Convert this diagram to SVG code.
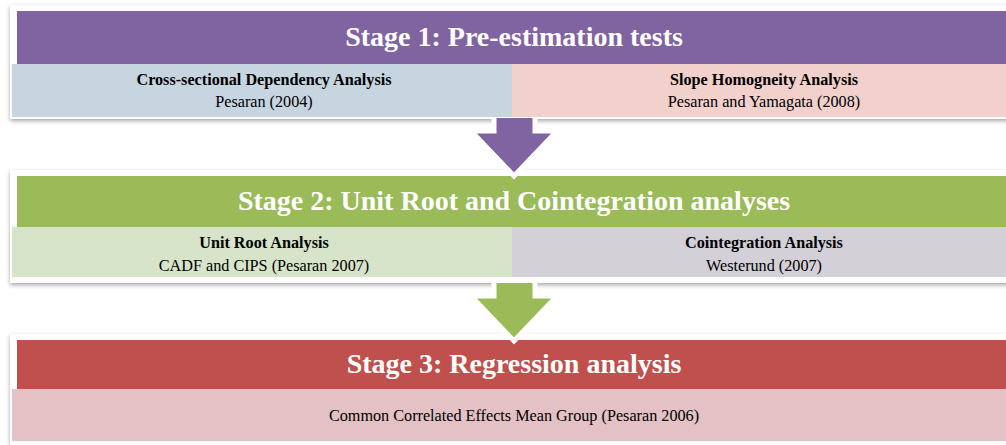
<svg xmlns="http://www.w3.org/2000/svg" width="1006" height="445" viewBox="0 0 1006 445">
<defs>
<filter id="sh" x="-5%" y="-10%" width="110%" height="130%">
<feDropShadow dx="0" dy="2" stdDeviation="2" flood-color="#000" flood-opacity="0.35"/>
</filter>
</defs>
<style>
.card{fill:#fff;filter:url(#sh)}
.title{font-family:"Liberation Serif",serif;font-weight:bold;font-size:28px;fill:#fff;text-anchor:middle}
.sub{font-family:"Liberation Serif",serif;font-weight:bold;font-size:16.2px;fill:#000;text-anchor:middle}
.txt{font-family:"Liberation Serif",serif;font-size:16.2px;fill:#000;text-anchor:middle}
.edge{fill:none;stroke:#fff;stroke-width:5;stroke-linejoin:miter}
</style>
<rect width="1006" height="445" fill="#fff"/>
<g id="stage1">
<rect class="card" x="10" y="5" width="1010" height="114"/>
<rect x="17" y="11" width="1000" height="53" fill="#8064A2"/>
<rect x="12" y="64" width="500" height="53" fill="#C7D5E0"/>
<rect x="512" y="64" width="505" height="53" fill="#F2D0CB"/>
<text class="title" x="514" y="46">Stage 1: Pre-estimation tests</text>
<text class="sub" x="264" y="85">Cross-sectional Dependency Analysis</text>
<text class="txt" x="264" y="107">Pesaran (2004)</text>
<text class="sub" x="764" y="85">Slope Homogneity Analysis</text>
<text class="txt" x="764" y="107">Pesaran and Yamagata (2008)</text>
</g>
<g id="stage2">
<rect class="card" x="10" y="170" width="1010" height="113"/>
<rect x="17" y="176" width="1000" height="51" fill="#9BBB59"/>
<rect x="12" y="227" width="500" height="50" fill="#D7E4C9"/>
<rect x="512" y="227" width="505" height="50" fill="#D3D0D8"/>
<text class="title" x="514" y="210">Stage 2: Unit Root and Cointegration analyses</text>
<text class="sub" x="264" y="248">Unit Root Analysis</text>
<text class="txt" x="264" y="271">CADF and CIPS (Pesaran 2007)</text>
<text class="sub" x="764" y="248">Cointegration Analysis</text>
<text class="txt" x="764" y="271">Westerund (2007)</text>
</g>
<g id="stage3">
<rect class="card" x="10" y="334" width="1010" height="115"/>
<rect x="17" y="340" width="1000" height="49" fill="#C0504D"/>
<rect x="12" y="389" width="1005" height="52" fill="#E3C1C4"/>
<text class="title" x="514" y="373">Stage 3: Regression analysis</text>
<text class="txt" x="514" y="421">Common Correlated Effects Mean Group (Pesaran 2006)</text>
</g>
<g id="connectors">
<polygon points="494,118 535,118 535,131 557,131 514,176 471,131 494,131" fill="#8064A2"/>
<polyline class="edge" points="535,118 535,131 557,131 514,176 471,131 494,131 494,118"/>
<polygon points="494,283 535,283 535,296 557,296 514,341 471,296 494,296" fill="#9BBB59"/>
<polyline class="edge" points="535,283 535,296 557,296 514,341 471,296 494,296 494,283"/>
</g>
</svg>
